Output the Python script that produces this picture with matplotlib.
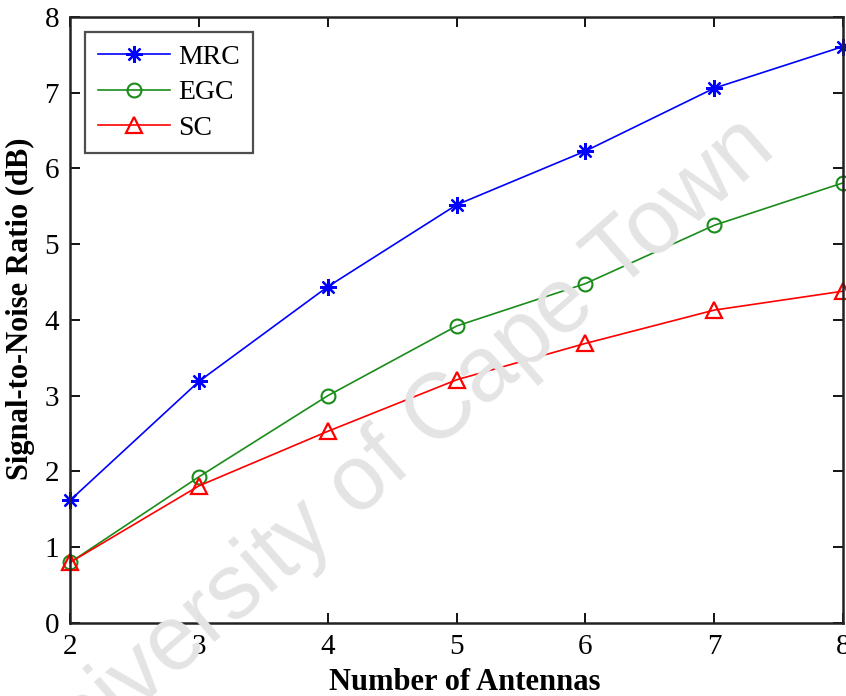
import matplotlib
matplotlib.use("Agg")
import matplotlib.pyplot as plt

# antenna counts and SNR values
antennas = [2, 3, 4, 5, 6, 7, 8]
mrc = [1.62, 3.19, 4.44, 5.52, 6.23, 7.06, 7.61]
egc = [0.80, 1.93, 3.00, 3.92, 4.48, 5.25, 5.81]
sc = [0.80, 1.81, 2.53, 3.21, 3.69, 4.13, 4.38]

plt.rcParams['font.family'] = ['Liberation Serif', 'DejaVu Serif']

fig = plt.figure(figsize=(8.46, 6.96), dpi=100)
ax = fig.add_axes([0.083, 0.105, 0.9135, 0.8706])

# watermark
fig.text(406 / 846, 1 - 476 / 696, "University of Cape Town", family='Liberation Sans',
         fontsize=66, color='#e4e4e4', rotation=41, ha='center', va='baseline',
         rotation_mode='anchor', zorder=0)
ax.patch.set_alpha(0)

asterisk = (8, 2, 0)
ax.plot(antennas, mrc, color='#0000ff', marker=asterisk, markersize=12,
        markeredgewidth=1.6, lw=1.2, label='MRC', clip_on=False)
ax.plot(antennas, egc, color='#1a8c1a', marker='o', markersize=10,
        markerfacecolor='none', markeredgewidth=1.5, lw=1.2, label='EGC', clip_on=False)
ax.plot(antennas, sc, color='#ff0000', marker='^', markersize=11,
        markerfacecolor='none', markeredgewidth=1.6, lw=1.2, label='SC', clip_on=False)

ax.set_xlim(2, 8)
ax.set_ylim(0, 8)
ax.set_xticks(antennas)
ax.set_yticks(range(0, 9))
ax.tick_params(direction='in', top=True, right=True, length=7, width=1.3,
               labelsize=21, pad=8)
for s in ax.spines.values():
    s.set_linewidth(1.8)
    s.set_color('#222222')

ax.set_xlabel("Number of Antennas", fontsize=22, fontweight='bold')
ax.set_ylabel("Signal-to-Noise Ratio (dB)", fontsize=22, fontweight='bold')
ax.xaxis.set_label_coords(0.511, -0.075)
ax.yaxis.set_label_coords(-0.046, 0.518)

leg = ax.legend(loc='upper left', fontsize=20, fancybox=False, edgecolor='#222222',
                handlelength=2.6, handletextpad=0.3, borderpad=0.45, labelspacing=0.35,
                borderaxespad=0.55)
leg.get_frame().set_linewidth(1.6)

fig.savefig("out.png", dpi=100)
